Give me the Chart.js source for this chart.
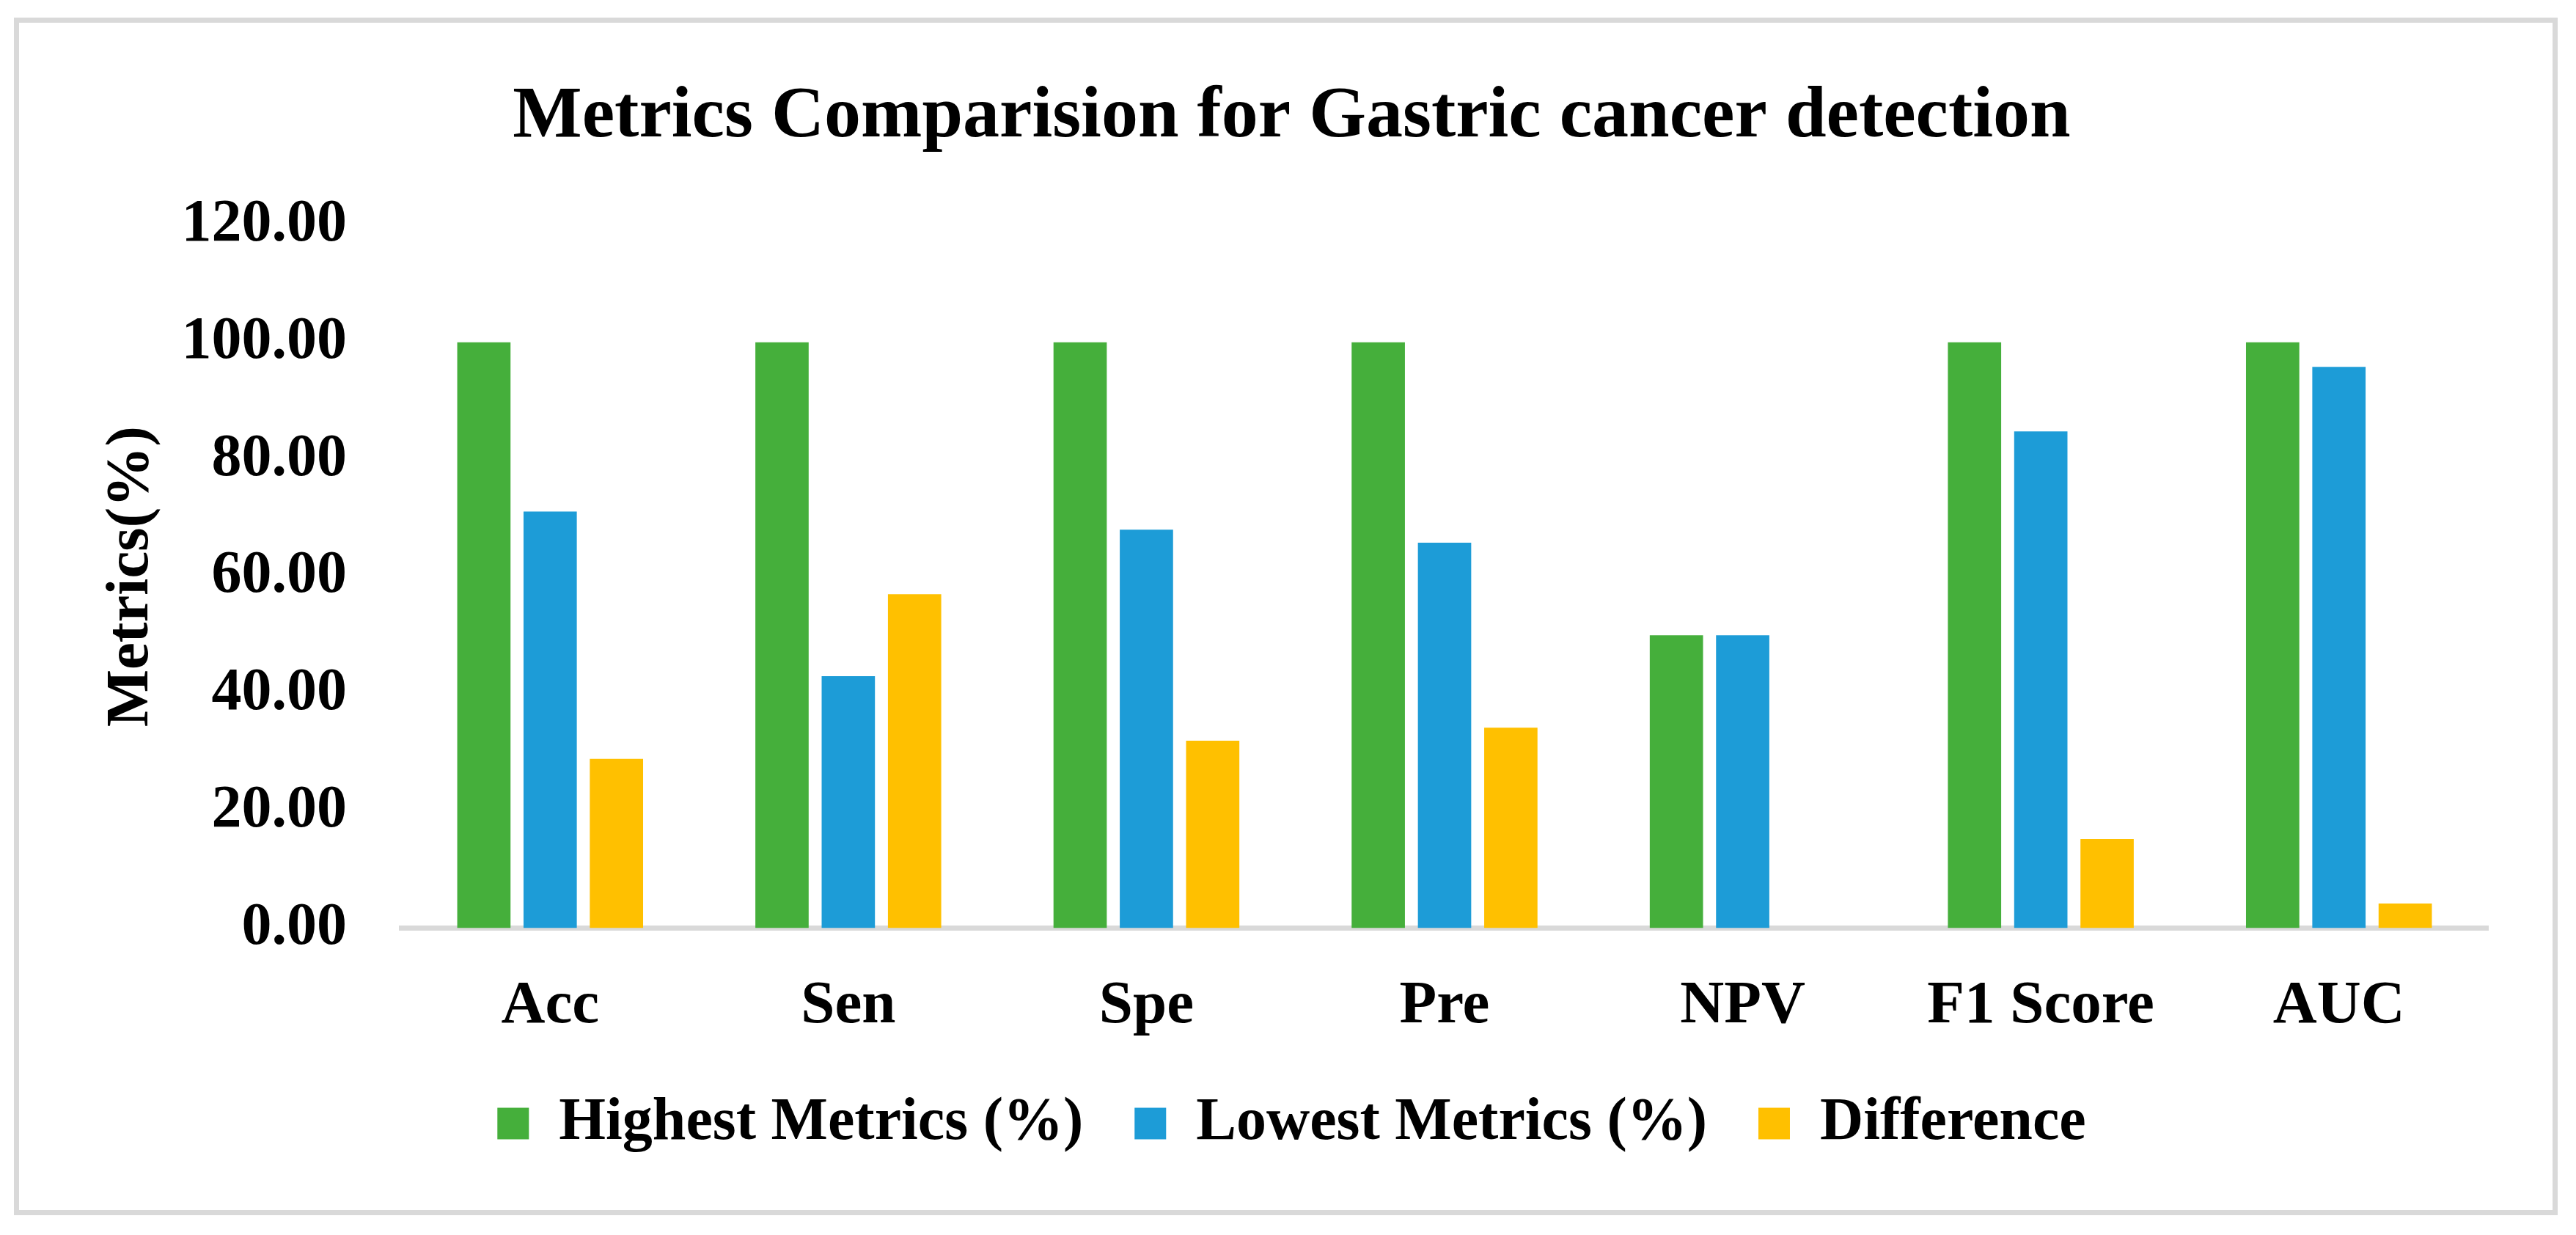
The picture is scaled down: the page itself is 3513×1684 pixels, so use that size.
<!DOCTYPE html>
<html>
<head>
<meta charset="utf-8">
<script src="https://cdn.jsdelivr.net/npm/chart.js@4.4.1/dist/chart.umd.min.js"></script>
<style>
  html, body { margin: 0; padding: 0; background: #ffffff; overflow: hidden; }
  #wrap { position: relative; width: 3513px; height: 1684px; }
  #frame { position: absolute; left: 19px; top: 24px; width: 3469px; height: 1633px;
           box-sizing: border-box; border: 7px solid #d9d9d9; pointer-events: none; }
  canvas { position: absolute; left: 0; top: 0; }
</style>
</head>
<body>
<div id="wrap">
  <canvas id="c" width="3513" height="1684"></canvas>
  <div id="frame"></div>
</div>
<script>
const categories = ["Acc", "Sen", "Spe", "Pre", "NPV", "F1 Score", "AUC"];
const highestMetrics = [100, 100, 100, 100, 50, 100, 100];
const lowestMetrics = [71.1, 43.0, 68.0, 65.8, 50, 84.8, 95.8];
const difference = [28.9, 57.0, 32.0, 34.2, 0, 15.2, 4.2];
const seriesNames = ["Highest Metrics (%)", "Lowest Metrics (%)", "Difference"];
const yTicks = [0, 20, 40, 60, 80, 100, 120];
const chartTitle = "Metrics Comparision for Gastric cancer detection";
const yAxisTitle = "Metrics(%)";

const FONT = "'Liberation Serif', 'Times New Roman', serif";
const PAD_LEFT = 130;
const PAD_BOTTOM = 101;
const PLOT_LEFT = 547;
const PLOT_BOTTOM = 1265.5;

new Chart(document.getElementById('c'), {
  type: 'bar',
  data: {
    labels: categories,
    datasets: [
      { label: seriesNames[0], data: highestMetrics, backgroundColor: '#45AF3B' },
      { label: seriesNames[1], data: lowestMetrics, backgroundColor: '#1D9CD7' },
      { label: seriesNames[2], data: difference, backgroundColor: '#FFC000' }
    ]
  },
  options: {
    responsive: false,
    animation: false,
    devicePixelRatio: 1,
    datasets: { bar: { categoryPercentage: 0.667, barPercentage: 0.804 } },
    layout: { padding: { left: PAD_LEFT, right: 120, top: 0, bottom: PAD_BOTTOM } },
    plugins: {
      title: {
        display: true,
        text: chartTitle,
        color: '#000000',
        font: { family: FONT, size: 100, weight: 'bold', lineHeight: 1.2 },
        padding: { top: 100, bottom: 87 }
      },
      legend: {
        display: true,
        position: 'bottom',
        labels: {
          color: '#000000',
          font: { family: FONT, size: 82, weight: 'bold', lineHeight: 1.2 },
          boxWidth: 43,
          boxHeight: 43,
          padding: 70
        }
      },
      tooltip: { enabled: false }
    },
    scales: {
      x: {
        z: 1,
        grid: { display: false, drawTicks: false },
        border: { display: true, color: '#d9d9d9', width: 7 },
        ticks: {
          color: '#000000',
          font: { family: FONT, size: 83, weight: 'bold', lineHeight: 1.2 },
          padding: 57,
          maxRotation: 0,
          autoSkip: false
        },
        afterFit: (s) => {
          const lg = s.chart.legend ? s.chart.legend.height : 0;
          s.height = (s.chart.height - PAD_BOTTOM - lg) - PLOT_BOTTOM;
        }
      },
      y: {
        min: 0,
        max: 120,
        grid: { display: false, drawTicks: false },
        border: { display: false },
        afterBuildTicks: (s) => { s.ticks = yTicks.map(v => ({ value: v })); },
        ticks: {
          color: '#000000',
          font: { family: FONT, size: 82, weight: 'bold', lineHeight: 1.2 },
          padding: 74,
          callback: (v) => Number(v).toFixed(2)
        },
        title: {
          display: true,
          text: yAxisTitle,
          color: '#000000',
          font: { family: FONT, size: 83, weight: 'bold', lineHeight: 1.2 },
          padding: { top: 0, bottom: 0 }
        },
        afterFit: (s) => { s.width = PLOT_LEFT - PAD_LEFT; }
      }
    }
  }
});
</script>
</body>
</html>
